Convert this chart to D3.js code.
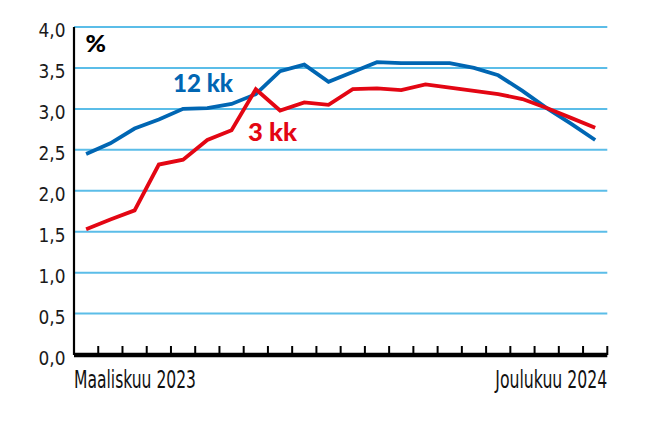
<!DOCTYPE html>
<html><head><meta charset="utf-8">
<script src="https://cdn.jsdelivr.net/npm/d3@7"></script>
<style>body{margin:0;background:#fff}svg{display:block}</style>
</head><body>
<script>
const months = ["2023-03","2023-04","2023-05","2023-06","2023-07","2023-08","2023-09","2023-10","2023-11","2023-12",
  "2024-01","2024-02","2024-03","2024-04","2024-05","2024-06","2024-07","2024-08","2024-09","2024-10","2024-11","2024-12"];
const euribor12 = [2.45,2.58,2.76,2.87,3.00,3.01,3.06,3.18,3.46,3.54,3.33,3.45,3.57,3.56,3.56,3.56,3.50,3.41,3.22,3.01,2.82,2.62];
const euribor3  = [1.53,1.65,1.76,2.32,2.38,2.62,2.74,3.24,2.98,3.08,3.05,3.24,3.25,3.23,3.30,3.26,3.22,3.18,3.12,3.01,2.89,2.77];
const yTicks = [0,0.5,1,1.5,2,2.5,3,3.5,4];
const xLabels = ["Maaliskuu 2023","Joulukuu 2024"];
const seriesNames = ["12 kk","3 kk"];

const W=650,H=423;
const svg=d3.select("body").append("svg").attr("width",W).attr("height",H);
const x=d3.scaleBand().domain(months).range([74,607.3]).padding(0);
const y=d3.scaleLinear().domain([0,4]).range([354.5,27]);
const fmt=d=>d3.format(".1f")(d).replace(".",",");

// gridlines
svg.append("g").selectAll("line").data(yTicks.filter(d=>d>0)).join("line")
  .attr("x1",74).attr("x2",607.3).attr("y1",d=>y(d)).attr("y2",d=>y(d))
  .attr("stroke","#5bbde8").attr("stroke-width",2);
// y labels
svg.append("g").selectAll("text").data(yTicks).join("text")
  .attr("x",65.5).attr("y",d=>y(d)+10).attr("text-anchor","end")
  .attr("font-family","'Liberation Sans Narrow','DejaVu Sans Condensed',Roboto,sans-serif")
  .attr("font-size",20).attr("fill","#1a1a1a")
  .attr("textLength",27).attr("lengthAdjust","spacingAndGlyphs").text(fmt);
// y axis
svg.append("line").attr("x1",74).attr("x2",74).attr("y1",27).attr("y2",355).attr("stroke","#000").attr("stroke-width",2.2);

// lines
const line=d3.line().x((d,i)=>x(months[i])+x.bandwidth()/2).y(d=>y(d));
svg.append("path").datum(euribor12).attr("d",line).attr("fill","none").attr("stroke","#0066b3").attr("stroke-width",3.8).attr("stroke-linejoin","miter");
svg.append("path").datum(euribor3).attr("d",line).attr("fill","none").attr("stroke","#e30613").attr("stroke-width",3.8).attr("stroke-linejoin","miter");

// x axis
svg.append("line").attr("x1",74).attr("x2",607.3).attr("y1",355).attr("y2",355).attr("stroke","#000").attr("stroke-width",4.7);
svg.append("g").selectAll("line").data(months).join("line")
  .attr("x1",d=>x(d)+x.bandwidth()).attr("x2",d=>x(d)+x.bandwidth())
  .attr("y1",346).attr("y2",355).attr("stroke","#000").attr("stroke-width",2);

// x labels
const xl=svg.append("g").attr("font-family","'Liberation Sans Narrow','DejaVu Sans Condensed',Roboto,sans-serif").attr("font-size",24).attr("fill","#111");
xl.append("text").attr("x",x(months[0])).attr("y",387.5).attr("textLength",122).attr("lengthAdjust","spacingAndGlyphs").text(xLabels[0]);
xl.append("text").attr("x",x(months[months.length-1])+x.bandwidth()-112).attr("y",387.5).attr("textLength",112).attr("lengthAdjust","spacingAndGlyphs").text(xLabels[1]);

// labels
const bf="Lato,'Open Sans',Roboto,sans-serif";
svg.append("text").attr("x",85.5).attr("y",52).attr("font-family",bf).attr("font-weight",900).attr("font-size",22).attr("textLength",20.5).attr("lengthAdjust","spacingAndGlyphs").attr("fill","#000").text("%");
svg.append("text").attr("x",173).attr("y",91.5).attr("font-family",bf).attr("font-weight",900).attr("font-size",24).attr("textLength",60).attr("lengthAdjust","spacingAndGlyphs").attr("fill","#0066b3").text(seriesNames[0]);
svg.append("text").attr("x",248).attr("y",141).attr("font-family",bf).attr("font-weight",900).attr("font-size",24).attr("textLength",49).attr("lengthAdjust","spacingAndGlyphs").attr("fill","#e30613").text(seriesNames[1]);
</script>
</body></html>
